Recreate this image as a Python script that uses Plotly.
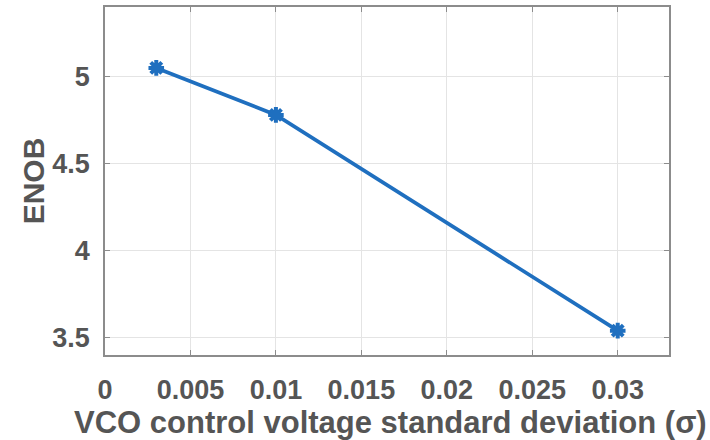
import plotly.graph_objects as go

# ENOB versus VCO control-voltage spread
sigma = [0.003, 0.01, 0.03]
enob = [5.05, 4.78, 3.54]

x_ticks = [0, 0.005, 0.01, 0.015, 0.02, 0.025, 0.03]
x_tick_text = ["0", "0.005", "0.01", "0.015", "0.02", "0.025", "0.03"]
y_ticks = [3.5, 4, 4.5, 5]
y_tick_text = ["3.5", "4", "4.5", "5"]

x_title = "VCO control voltage standard deviation (σ)"
y_title = "ENOB"

line_color = "#1f6fbf"
text_color = "#555555"
axis_color = "#8c8c8c"
grid_color = "#e4e4e4"
font_family = "Liberation Sans, Arial, sans-serif"

fig = go.Figure(
    go.Scatter(
        x=sigma,
        y=enob,
        mode="lines+markers",
        line=dict(color=line_color, width=3.8),
        marker=dict(symbol="asterisk-open", size=13,
                    line=dict(color=line_color, width=4), color=line_color),
        showlegend=False,
    )
)

axis_common = dict(
    showline=True,
    linecolor=axis_color,
    linewidth=1.5,
    mirror="ticks",
    ticks="inside",
    ticklen=5,
    tickcolor=axis_color,
    showgrid=True,
    gridcolor=grid_color,
    gridwidth=1,
    zeroline=False,
    automargin=False,
    tickfont=dict(family=font_family, size=27, color=text_color, weight="bold"),
)

fig.update_xaxes(
    range=[0, 0.033],
    tickvals=x_ticks,
    ticktext=x_tick_text,
    ticklabelstandoff=10,
    **axis_common,
)
fig.update_yaxes(
    range=[3.4, 5.4],
    tickvals=y_ticks,
    ticktext=y_tick_text,
    ticklabelstandoff=8,
    **axis_common,
)

# Axis titles placed as paper-anchored annotations
fig.add_annotation(
    text=x_title, xref="paper", yref="paper", x=0.507, y=-0.195,
    xanchor="center", yanchor="middle", showarrow=False,
    font=dict(family=font_family, size=31, color=text_color, weight="bold"),
)
fig.add_annotation(
    text=y_title, xref="paper", yref="paper", x=-0.127, y=0.5,
    xanchor="center", yanchor="middle", showarrow=False, textangle=-90,
    font=dict(family=font_family, size=30, color=text_color, weight="bold"),
)

fig.update_layout(
    width=710,
    height=440,
    margin=dict(l=105, r=41, t=7, b=85),
    paper_bgcolor="white",
    plot_bgcolor="white",
)

fig.write_html("out.html")
